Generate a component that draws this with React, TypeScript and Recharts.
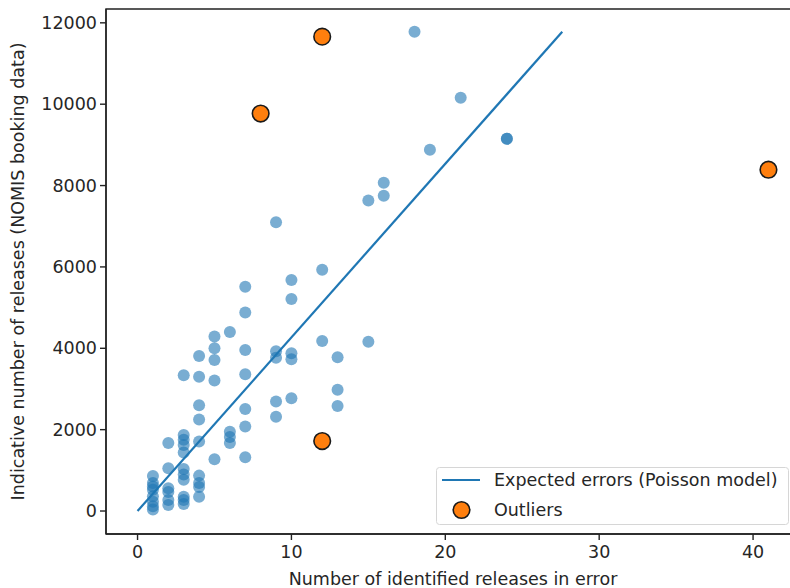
import React from 'react';
import {
  ComposedChart, Scatter, XAxis, YAxis, ReferenceArea, Legend, Label,
} from 'recharts';

const X_TICKS = [0, 10, 20, 30, 40];
const Y_TICKS = [0, 2000, 4000, 6000, 8000, 10000, 12000];

// identified errors (x) and the indicative releases seen at each count (y)
const ERROR_COUNTS = [1, 2, 3, 4, 5, 6, 7, 9, 10, 12, 13, 15, 16, 18, 19, 21, 24];
const RELEASES_BY_COUNT = [
  [860, 690, 600, 520, 360, 230, 120, 40],
  [1670, 1050, 560, 470, 270, 150],
  [3340, 1870, 1750, 1620, 1440, 1030, 900, 770, 350, 270, 170],
  [3810, 3300, 2600, 2250, 1710, 870, 690, 590, 350],
  [4290, 4000, 3710, 3210, 1270],
  [4400, 1950, 1820, 1670],
  [5510, 4880, 3960, 3360, 2510, 2080, 1320],
  [7100, 3930, 3770, 2690, 2320],
  [5680, 5210, 3880, 3730, 2770],
  [5930, 4180],
  [3780, 2980, 2580],
  [7630, 4160],
  [8070, 7750],
  [11780],
  [8880],
  [10160],
  [9150, 9150],
];

const OUTLIER_ERRORS = [8, 12, 12, 41];
const OUTLIER_RELEASES = [9770, 11660, 1720, 8390];

// Poisson model expectation, end points
const MODEL_ERRORS = [0, 27.6];
const MODEL_RELEASES = [0, 11780];

const X_DOMAIN: [number, number] = [-2.05, 43.05];
const Y_DOMAIN: [number, number] = [-565, 12340];

const FONT = 'DejaVu Sans';
const TEXT = '#262626';
const BLUE = '#1f77b4';
const ORANGE = '#ff7f0e';

const points = ERROR_COUNTS.flatMap((x, i) => RELEASES_BY_COUNT[i].map((y) => ({ x, y })));
const outliers = OUTLIER_ERRORS.map((x, i) => ({ x, y: OUTLIER_RELEASES[i] }));
const model = MODEL_ERRORS.map((x, i) => ({ x, y: MODEL_RELEASES[i] }));

function BlueDot(props: any) {
  return <circle cx={props.cx} cy={props.cy} r={6} fill={BLUE} fillOpacity={0.6} />;
}

function OutlierDot(props: any) {
  return <circle cx={props.cx} cy={props.cy} r={8.3} fill={ORANGE} stroke="#1a1a1a" strokeWidth={1.6} />;
}

function LegendBox() {
  return (
    <svg width={353} height={58} style={{ display: 'block' }}>
      <rect x={0.5} y={0.5} width={352} height={57} rx={3} fill="#fff" fillOpacity={0.8} stroke="#d6d6d6" />
      <line x1={6} x2={44} y1={13} y2={13} stroke={BLUE} strokeWidth={2.2} />
      <text x={58} y={13} dominantBaseline="central" fontFamily={FONT} fontSize={17.5} fill={TEXT}>
        Expected errors (Poisson model)
      </text>
      <circle cx={25.5} cy={43} r={8.3} fill={ORANGE} stroke="#1a1a1a" strokeWidth={1.6} />
      <text x={58} y={43} dominantBaseline="central" fontFamily={FONT} fontSize={17.5} fill={TEXT}>
        Outliers
      </text>
    </svg>
  );
}

function YLabel(props: any) {
  const vb = props.viewBox;
  const cx = vb.x + 18;
  const cy = vb.y + vb.height / 2;
  return (
    <text x={cx} y={cy} transform={`rotate(-90, ${cx}, ${cy})`} textAnchor="middle"
      dominantBaseline="central" fontFamily={FONT} fontSize={17.5} fill={TEXT}>
      Indicative number of releases (NOMIS booking data)
    </text>
  );
}

export default function App() {
  const tick = { fill: TEXT, fontSize: 17.5, fontFamily: FONT };
  return (
    <div style={{ position: 'absolute', left: 0, top: 0, width: 790, height: 588, overflow: 'hidden', background: '#fff' }}>
      <ComposedChart width={820} height={588} margin={{ top: 9, right: 20, bottom: 0, left: 0 }}>
        <XAxis type="number" dataKey="x" domain={X_DOMAIN} ticks={X_TICKS} allowDataOverflow
          height={54} tick={tick} tickSize={6} tickMargin={6}
          axisLine={{ stroke: '#222', strokeWidth: 1.4 }} tickLine={{ stroke: '#222', strokeWidth: 1.4 }}>
          <Label value="Number of identified releases in error" position="insideBottom" offset={3}
            style={{ fill: TEXT, fontSize: 17.5, fontFamily: FONT }} />
        </XAxis>
        <YAxis type="number" dataKey="y" domain={Y_DOMAIN} ticks={Y_TICKS} allowDataOverflow
          width={106} tick={tick} tickSize={6} tickMargin={3}
          axisLine={{ stroke: '#222', strokeWidth: 1.4 }} tickLine={{ stroke: '#222', strokeWidth: 1.4 }}>
          <Label content={<YLabel />} />
        </YAxis>
        <ReferenceArea x1={X_DOMAIN[0]} x2={X_DOMAIN[1]} y1={Y_DOMAIN[0]} y2={Y_DOMAIN[1]}
          fill="none" stroke="#222" strokeWidth={1.4} ifOverflow="visible" />
        <Scatter data={points} shape={<BlueDot />} isAnimationActive={false} legendType="none" />
        <Scatter data={model} line={{ stroke: BLUE, strokeWidth: 2.2 }} shape={() => <g />}
          isAnimationActive={false} legendType="none" />
        <Scatter data={outliers} shape={<OutlierDot />} isAnimationActive={false} legendType="none" />
        <Legend layout="horizontal" verticalAlign="middle" align="center" content={<LegendBox />}
          wrapperStyle={{ position: 'absolute', left: 436, top: 467, width: 353, height: 58 }} />
      </ComposedChart>
    </div>
  );
}
